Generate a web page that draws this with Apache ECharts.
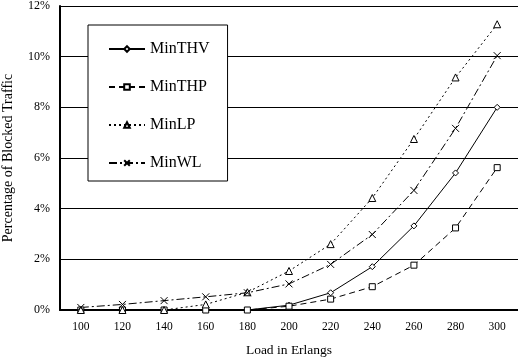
<!DOCTYPE html>
<html>
<head>
<meta charset="utf-8">
<script src="https://cdn.jsdelivr.net/npm/echarts@6/dist/echarts.min.js"></script>
<style>
  html, body { margin: 0; padding: 0; background: #fff; }
  #chart { width: 518px; height: 362px; }
</style>
</head>
<body>
<div id="chart"></div>
<script>
// load values (Erlangs)
const loads = ['100', '120', '140', '160', '180', '200', '220', '240', '260', '280', '300'];
// percentage of blocked traffic
const minTHV = [0, 0, 0, 0, 0, 0.19, 0.68, 1.71, 3.32, 5.41, 8.0];
const minTHP = [0, 0, 0, 0, 0, 0.15, 0.43, 0.92, 1.77, 3.24, 5.62];
const minLP = [0, 0, 0, 0.22, 0.7, 1.54, 2.6, 4.42, 6.75, 9.18, 11.28];
const minWL = [0.1, 0.22, 0.37, 0.52, 0.68, 1.03, 1.8, 2.98, 4.72, 7.17, 10.04];

const font = 'Liberation Serif';
const crossPath = 'path://M0,0L10,10M10,0L0,10';

function line(name, data, symbol, dash, size) {
  return {
    name: name,
    type: 'line',
    data: data,
    symbol: symbol,
    symbolSize: size,
    showAllSymbol: true,
    lineStyle: { color: '#000', width: 1, type: dash },
    itemStyle: { color: '#fff', borderColor: '#000', borderWidth: 1 },
    emphasis: { disabled: true },
    animation: false,
  };
}

const chart = echarts.init(document.getElementById('chart'));
chart.setOption({
  backgroundColor: '#fff',
  animation: false,
  textStyle: { fontFamily: font, color: '#000' },
  grid: { left: 60, right: 0, top: 6, bottom: 52, outerBoundsMode: 'none', containLabel: false },
  legend: {
    orient: 'vertical',
    left: 88,
    top: 25,
    padding: [16, 18, 10, 20],
    itemGap: 22,
    itemWidth: 36,
    itemHeight: 7,
    backgroundColor: '#fff',
    borderColor: '#000',
    borderWidth: 1,
    textStyle: { fontFamily: font, fontSize: 16, color: '#000' },
    data: ['MinTHV', 'MinTHP', 'MinLP', 'MinWL'],
  },
  xAxis: {
    type: 'category',
    data: loads,
    boundaryGap: true,
    name: 'Load in Erlangs',
    nameLocation: 'middle',
    nameGap: 33,
    nameTextStyle: { fontFamily: font, fontSize: 13.5, color: '#000' },
    axisLine: { lineStyle: { color: '#000', width: 2 } },
    axisTick: { inside: true, length: 4, lineStyle: { color: '#000' } },
    axisLabel: { fontFamily: font, fontSize: 11.5, color: '#000', margin: 11 },
  },
  yAxis: {
    type: 'value',
    min: 0,
    max: 12,
    interval: 2,
    name: 'Percentage of Blocked Traffic',
    nameLocation: 'middle',
    nameGap: 45,
    nameTextStyle: { fontFamily: font, fontSize: 14, color: '#000' },
    axisLine: { show: true, lineStyle: { color: '#000', width: 2 } },
    axisTick: { show: false },
    axisLabel: { fontFamily: font, fontSize: 12, color: '#000', margin: 10, formatter: '{value}%' },
    splitLine: { lineStyle: { color: '#000', width: 1 } },
  },
  series: [
    line('MinTHV', minTHV, 'diamond', 'solid', 6),
    line('MinTHP', minTHP, 'rect', [6, 4], 6),
    line('MinLP', minLP, 'triangle', [2, 3], 7),
    line('MinWL', minWL, crossPath, [8, 3, 2, 3], 7),
  ],
});
</script>
</body>
</html>
